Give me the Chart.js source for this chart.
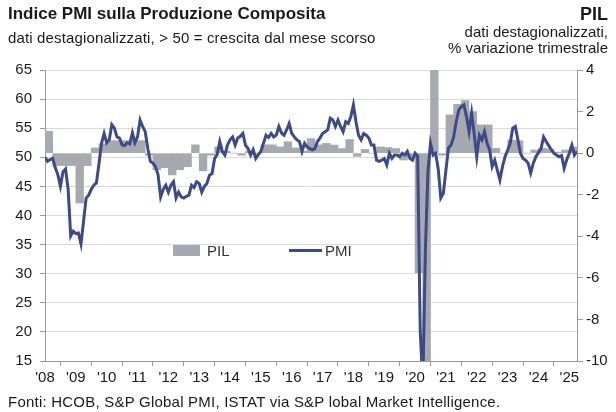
<!DOCTYPE html>
<html lang="it">
<head>
<meta charset="UTF-8">
<title>Indice PMI sulla Produzione Composita</title>
<style>
  body { margin: 0; background: #fff; font-family: "Liberation Sans", Arial, sans-serif; color: #1a1a1a; }
  .wrap { position: relative; width: 616px; height: 412px; overflow: hidden; }
  canvas { position: absolute; left: 0; top: 0; }
  .txt { position: absolute; white-space: nowrap; }
  .title { left: 8px; top: 4px; font-size: 17px; line-height: 20px; font-weight: bold; }
  .sub { left: 8px; top: 30px; font-size: 15px; line-height: 16px; letter-spacing: 0.15px; }
  .rtitle { right: 8px; top: 4px; font-size: 18px; line-height: 20px; font-weight: bold; text-align: right; }
  .rsub { right: 8px; top: 24px; font-size: 15px; line-height: 16px; text-align: right; }
  .foot { left: 8px; top: 394px; font-size: 15px; line-height: 16px; letter-spacing: 0.22px; }
  .leg { position: absolute; top: 243px; font-size: 15px; line-height: 15px; color: #333; }
  .sw-bar { position: absolute; left: 173px; top: 245px; width: 27px; height: 11px; background: #a6aab0; }
  .sw-line { position: absolute; left: 289px; top: 249px; width: 33px; height: 3px; background: #3d4a88; }
</style>
</head>
<body>
<div class="wrap">
  <canvas id="chart" width="616" height="412"></canvas>
  <div class="txt title">Indice PMI sulla Produzione Composita</div>
  <div class="txt sub">dati destagionalizzati, &gt; 50 = crescita dal mese scorso</div>
  <div class="txt rtitle">PIL</div>
  <div class="txt rsub">dati destagionalizzati,<br>% variazione trimestrale</div>
  <div class="sw-bar"></div>
  <div class="leg" style="left:207px">PIL</div>
  <div class="sw-line"></div>
  <div class="leg" style="left:325px">PMI</div>
  <div class="txt foot">Fonti: HCOB, S&amp;P Global PMI, ISTAT via S&amp;P lobal Market Intelligence.</div>
</div>

<script src="https://cdn.jsdelivr.net/npm/chart.js"></script>
<script>
// tick labels on the x axis, one per year (January)
const yearLabels = ["'08", "'09", "'10", "'11", "'12", "'13", "'14", "'15", "'16",
                    "'17", "'18", "'19", "'20", "'21", "'22", "'23", "'24", "'25"];

// PMI composito, mensile, gen 2008 - apr 2025
const pmi2008 = [50.0, 49.3, 49.6, 49.8, 48.2, 47.0, 45.0, 47.5, 48.0, 44.5, 36.5, 37.3];
const pmi2009 = [36.9, 37.0, 35.1, 39.0, 43.0, 43.5, 44.5, 45.2, 45.6, 48.9, 52.4, 54.1];
const pmi2010 = [52.5, 53.0, 55.6, 55.0, 53.5, 53.3, 52.1, 52.0, 52.5, 52.3, 54.2, 52.5];
const pmi2011 = [53.5, 56.4, 55.3, 54.4, 51.5, 49.3, 49.0, 48.4, 47.0, 43.2, 44.5, 45.2];
const pmi2012 = [44.0, 45.2, 45.8, 43.0, 44.0, 43.2, 43.0, 43.3, 43.5, 45.2, 44.8, 45.8];
const pmi2013 = [45.5, 44.0, 45.0, 45.5, 46.9, 47.2, 49.8, 50.5, 52.7, 51.0, 50.4, 52.1];
const pmi2014 = [53.0, 53.5, 52.1, 53.3, 53.6, 54.1, 52.1, 51.5, 50.4, 51.3, 49.8, 50.5];
const pmi2015 = [51.0, 52.4, 53.8, 53.4, 54.1, 53.5, 53.8, 55.3, 54.2, 53.8, 54.7, 55.8];
const pmi2016 = [54.1, 53.5, 53.0, 52.7, 51.0, 52.4, 51.8, 51.5, 51.3, 51.5, 52.7, 53.3];
const pmi2017 = [54.1, 54.4, 54.7, 56.7, 56.4, 55.3, 56.4, 55.3, 54.4, 56.1, 55.8, 57.0];
const pmi2018 = [59.0, 56.1, 53.8, 53.0, 54.1, 53.8, 53.3, 52.1, 52.1, 49.5, 49.3, 49.5];
const pmi2019 = [49.8, 48.7, 50.7, 49.8, 50.4, 50.4, 50.1, 50.7, 50.4, 51.0, 49.8, 49.5];
const pmi2020 = [50.7, 50.2, 20.2, 10.9, 33.9, 47.6, 52.4, 50.4, 50.7, 48.0, 43.0, 43.8];
const pmi2021 = [47.8, 51.6, 52.1, 53.5, 56.1, 58.1, 58.7, 59.0, 57.0, 54.4, 57.6, 54.0];
const pmi2022 = [50.1, 53.8, 53.0, 54.4, 52.4, 51.3, 48.4, 49.5, 47.8, 46.1, 48.4, 50.1];
const pmi2023 = [51.2, 52.4, 55.0, 55.3, 53.0, 50.7, 49.8, 49.5, 49.0, 47.3, 49.0, 50.1];
const pmi2024 = [50.8, 51.5, 53.5, 52.7, 52.0, 51.3, 50.7, 50.4, 50.1, 50.3, 48.1, 49.6];
const pmi2025 = [50.7, 52.1, 50.4, 51.0];

// PIL, % variazione trimestrale, T1 2008 - T1 2025
const pil2008 = [1.05, -0.6, -0.6, -0.6];
const pil2009 = [-2.4, -0.6, 0.25, 0.45];
const pil2010 = [0.6, 0.6, 0.6, 0.6];
const pil2011 = [0.6, -0.1, -0.8, -0.7];
const pil2012 = [-1.05, -0.8, -0.65, 0.4];
const pil2013 = [-0.85, -0.1, 0.3, 0.1];
const pil2014 = [0.0, -0.1, 0.1, 0.0];
const pil2015 = [0.4, 0.4, 0.3, 0.55];
const pil2016 = [0.25, 0.1, 0.7, 0.4];
const pil2017 = [0.47, 0.39, 0.22, 0.66];
const pil2018 = [-0.15, 0.18, 0.0, 0.3];
const pil2019 = [0.27, 0.22, -0.33, -0.2];
const pil2020 = [-5.75, -12.0, 15.9, -0.1];
const pil2021 = [1.84, 2.35, 2.53, 2.0];
const pil2022 = [1.36, 1.36, 0.23, 0.0];
const pil2023 = [0.63, 0.6, 0.0, 0.15];
const pil2024 = [0.23, 0.2, 0.05, 0.15];
const pil2025 = [0.3];

const pmi = [].concat(pmi2008, pmi2009, pmi2010, pmi2011, pmi2012, pmi2013, pmi2014, pmi2015,
  pmi2016, pmi2017, pmi2018, pmi2019, pmi2020, pmi2021, pmi2022, pmi2023, pmi2024, pmi2025);
const pil = [].concat(pil2008, pil2009, pil2010, pil2011, pil2012, pil2013, pil2014, pil2015,
  pil2016, pil2017, pil2018, pil2019, pil2020, pil2021, pil2022, pil2023, pil2024, pil2025);

// x is a month index (0 = gen 2008); a quarter covers 3 months, bar centred in it
const pmiPoints = pmi.map((v, i) => ({ x: i, y: v }));
const pilPoints = pil.map((v, q) => ({ x: q * 3 + 1.5, y: v }));
const yearTicks = yearLabels.map((l, i) => i * 12);

const font = { family: "'Liberation Sans', Arial, sans-serif", size: 15 };
const axisGrey = '#9a9a9a';

new Chart(document.getElementById('chart'), {
  type: 'line',
  data: {
    datasets: [
      {
        type: 'line',
        label: 'PMI',
        data: pmiPoints,
        yAxisID: 'y',
        borderColor: '#3d4a88',
        borderWidth: 3,
        pointRadius: 0,
        tension: 0,
        order: 1
      },
      {
        type: 'bar',
        label: 'PIL',
        data: pilPoints,
        yAxisID: 'y1',
        backgroundColor: '#a6aab0',
        borderWidth: 0,
        barPercentage: 1,
        categoryPercentage: 1,
        order: 2
      }
    ]
  },
  options: {
    responsive: false,
    animation: false,
    devicePixelRatio: 1,
    layout: { padding: { top: 70, left: 0, right: 0, bottom: 0 } },
    plugins: { legend: { display: false }, tooltip: { enabled: false } },
    scales: {
      x: {
        type: 'linear',
        min: 0,
        max: pmi.length - 1,
        offset: false,
        afterFit: s => { s.height = 51; },
        afterBuildTicks: s => { s.ticks = yearTicks.map(v => ({ value: v })); },
        ticks: {
          autoSkip: false,
          maxRotation: 0,
          padding: 3,
          color: '#1a1a1a',
          font: font,
          callback: (v) => yearLabels[Math.round(v / 12)]
        },
        grid: { drawOnChartArea: false, tickLength: 5, tickColor: axisGrey },
        border: { color: axisGrey }
      },
      y: {
        position: 'left',
        min: 15,
        max: 65,
        afterFit: s => { s.width = 45; },
        ticks: { stepSize: 5, padding: 8, color: '#1a1a1a', font: font },
        grid: { color: '#dadada', tickLength: 5, tickColor: axisGrey },
        border: { color: axisGrey }
      },
      y1: {
        position: 'right',
        min: -10,
        max: 4,
        afterFit: s => { s.width = 39; },
        ticks: { stepSize: 2, padding: 3, color: '#1a1a1a', font: font },
        grid: { drawOnChartArea: false, tickLength: 6, tickColor: axisGrey },
        border: { color: axisGrey }
      }
    }
  }
});
</script>
</body>
</html>
